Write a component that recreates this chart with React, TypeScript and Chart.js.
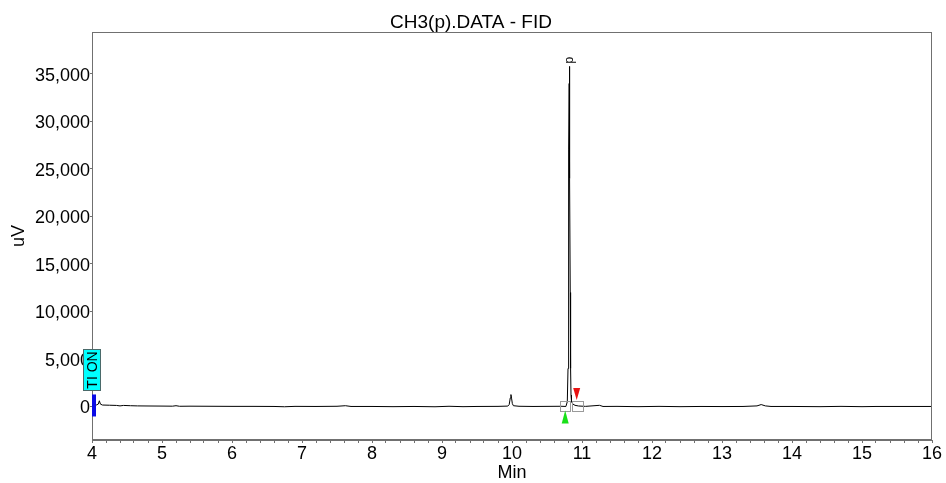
import React, { useEffect, useRef } from 'react';
import { Chart, registerables } from 'chart.js';

Chart.register(...registerables);

const TITLE = 'CH3(p).DATA - FID';
const X_TITLE = 'Min';
const Y_TITLE = 'uV';

// Retention time (min) and FID signal (uV) of the trace
const timeMin = [
  4.02, 4.06, 4.09, 4.105, 4.12, 4.15, 4.25, 4.35, 4.4, 4.45, 4.55, 4.65, 4.8, 5.0,
  5.15, 5.2, 5.25, 5.4, 5.7, 6.0, 6.3, 6.6, 6.75, 6.9, 7.2, 7.5, 7.62, 7.7, 8.0,
  8.3, 8.6, 8.9, 9.1, 9.3, 9.5, 9.8, 9.94, 9.96, 9.975, 9.985, 9.995, 10.005, 10.02,
  10.1, 10.3, 10.5, 10.7, 10.77, 10.79, 10.8, 10.806, 10.812, 10.817, 10.819, 10.822,
  10.827, 10.832, 10.837, 10.843, 10.85, 10.87, 10.9, 10.95, 11.05, 11.25, 11.3, 11.5,
  11.8, 12.1, 12.4, 12.7, 13.0, 13.3, 13.5, 13.56, 13.62, 13.7, 14.0, 14.4, 14.7,
  15.0, 15.2, 15.6, 16.0,
];
const signalUv = [
  100, 150, 250, 600, 250, 150, 130, 110, 60, 110, 80, 60, 50, 40,
  30, 80, 20, 30, 20, 10, 10, 0, -30, 10, 0, 20, 80, 0, 0,
  -20, 0, -30, 20, -20, 0, 10, 40, 200, 900, 1250, 800, 300, 80,
  20, 0, 10, 20, 0, 500, 4000, 14000, 27000, 34000, 35800, 33000,
  24000, 12000, 4000, 1200, 500, 250, 120, 50, 10, 120, 0, 10,
  -20, 10, -20, 0, -10, 0, 60, 200, 60, 0, 0, -20, 10,
  -20, 0, 0, 0,
];

// Axis ticks
const xMajorTicks = [4, 5, 6, 7, 8, 9, 10, 11, 12, 13, 14, 15, 16];
const xMinorStep = 0.2;
const yTicks = [0, 5000, 10000, 15000, 20000, 25000, 30000, 35000];
const xRange = [4, 16];
const yRange = [-3530, 39420];

// Integration marks of peak "p": start, apex, end
const peakName = 'p';
const peakStart = { t: 10.76, v: 0 };
const peakApex = { t: 10.819, v: 35800 };
const peakEnd = { t: 10.924, v: 60 };

// Timed event at the start of the run
const eventTime = 4.0;
const eventLabel = 'TI ON';

const FONT = '"Liberation Sans", Arial, sans-serif';
const AXIS_GREY = '#707070';

const overlayPlugin = {
  id: 'overlay',
  afterDraw(chart: any) {
    const { ctx, chartArea: a } = chart;
    const xs = chart.scales.x;
    const ys = chart.scales.y;
    ctx.save();

    // plot frame
    ctx.strokeStyle = AXIS_GREY;
    ctx.lineWidth = 1;
    ctx.strokeRect(
      Math.round(a.left) + 0.5,
      Math.round(a.top) + 0.5,
      Math.round(a.right - a.left) - 1,
      Math.round(a.bottom - a.top) - 1,
    );

    // title centred on the canvas
    ctx.fillStyle = '#000';
    ctx.font = `19px ${FONT}`;
    ctx.textAlign = 'center';
    ctx.textBaseline = 'alphabetic';
    ctx.fillText(TITLE, chart.width / 2 - 2, 28);

    // baseline start / end boxes
    const sx = xs.getPixelForValue(peakStart.t);
    const sy = ys.getPixelForValue(peakStart.v);
    const ex = xs.getPixelForValue(peakEnd.t);
    const ey = ys.getPixelForValue(peakEnd.v);
    ctx.strokeStyle = '#9a9a9a';
    ctx.lineWidth = 1;
    ctx.strokeRect(Math.round(sx - 5) + 0.5, Math.round(sy - 5) + 0.5, 10, 10);
    ctx.strokeRect(Math.round(ex - 5) + 0.5, Math.round(ey - 5) + 0.5, 11, 10);

    // start triangle (green, pointing up, below the trace)
    ctx.fillStyle = '#19e019';
    ctx.beginPath();
    ctx.moveTo(sx, sy + 4);
    ctx.lineTo(sx + 3.5, sy + 17);
    ctx.lineTo(sx - 3.5, sy + 17);
    ctx.closePath();
    ctx.fill();

    // end triangle (red, pointing down, above the trace)
    ctx.fillStyle = '#e81212';
    ctx.beginPath();
    ctx.moveTo(ex - 3.5, ey - 18);
    ctx.lineTo(ex + 3.5, ey - 18);
    ctx.lineTo(ex, ey - 6);
    ctx.closePath();
    ctx.fill();

    // peak name above the apex, rotated
    const px = xs.getPixelForValue(peakApex.t);
    const py = ys.getPixelForValue(peakApex.v);
    ctx.save();
    ctx.translate(px + 4, py - 3);
    ctx.rotate(-Math.PI / 2);
    ctx.fillStyle = '#000';
    ctx.font = `12px ${FONT}`;
    ctx.textAlign = 'left';
    ctx.textBaseline = 'alphabetic';
    ctx.fillText(peakName, 0, 0);
    ctx.restore();

    // timed event: blue bar on the trace and cyan label box
    const evx = xs.getPixelForValue(eventTime);
    const y0 = ys.getPixelForValue(0);
    ctx.fillStyle = '#0a0ae6';
    ctx.fillRect(evx, y0 - 12, 4, 22);

    const bx = Math.round(evx - 9);
    const by = Math.round(y0 - 57);
    ctx.fillStyle = '#00ffff';
    ctx.fillRect(bx, by, 18, 42);
    ctx.strokeStyle = '#4a6a6a';
    ctx.strokeRect(bx + 0.5, by + 0.5, 17, 41);
    ctx.save();
    ctx.translate(bx + 9, by + 21);
    ctx.rotate(-Math.PI / 2);
    ctx.fillStyle = '#000';
    ctx.font = `14px ${FONT}`;
    ctx.textAlign = 'center';
    ctx.textBaseline = 'middle';
    ctx.fillText(eventLabel, 0, 1);
    ctx.restore();

    ctx.restore();
  },
};

export default function App() {
  const canvasRef = useRef<HTMLCanvasElement | null>(null);

  useEffect(() => {
    const canvas = canvasRef.current;
    if (!canvas) return;

    const points = timeMin.map((t, i) => ({ x: t, y: signalUv[i] }));

    const xTickValues: number[] = [];
    for (let v = xRange[0]; v <= xRange[1] + 1e-9; v += xMinorStep) {
      xTickValues.push(Math.round(v * 10) / 10);
    }

    const chart = new Chart(canvas, {
      type: 'line',
      data: {
        datasets: [
          {
            data: points,
            borderColor: '#000',
            borderWidth: 1,
            pointRadius: 0,
            tension: 0,
            fill: false,
          },
        ],
      },
      options: {
        animation: false,
        responsive: false,
        events: [],
        layout: { padding: { top: 32, right: 14, left: 0, bottom: 0 } },
        plugins: {
          legend: { display: false },
          title: { display: false },
          tooltip: { enabled: false },
        },
        scales: {
          x: {
            type: 'linear',
            min: xRange[0],
            max: xRange[1],
            afterBuildTicks: (s: any) => {
              s.ticks = xTickValues.map((v) => ({ value: v }));
            },
            afterFit: (s: any) => {
              s.height = 43;
            },
            ticks: {
              autoSkip: false,
              maxRotation: 0,
              minRotation: 0,
              padding: 0,
              color: '#000',
              font: { family: FONT, size: 18 },
              callback: (v: any) => {
                const n = Math.round(Number(v) * 10) / 10;
                return xMajorTicks.includes(n) ? String(n) : '';
              },
            },
            grid: {
              display: true,
              drawOnChartArea: false,
              drawTicks: true,
              tickLength: 3,
              color: AXIS_GREY,
            },
            border: { display: true, color: AXIS_GREY },
            title: {
              display: true,
              text: X_TITLE,
              color: '#000',
              font: { family: FONT, size: 18 },
              padding: { top: 0, bottom: -1 },
            },
          },
          y: {
            type: 'linear',
            min: yRange[0],
            max: yRange[1],
            afterBuildTicks: (s: any) => {
              s.ticks = yTicks.map((v) => ({ value: v }));
            },
            afterFit: (s: any) => {
              s.width = 92;
            },
            ticks: {
              padding: 0,
              labelOffset: 2,
              color: '#000',
              font: { family: FONT, size: 18 },
              callback: (v: any) => Number(v).toLocaleString('en-US'),
            },
            grid: {
              display: true,
              drawOnChartArea: false,
              drawTicks: true,
              tickLength: 2,
              color: AXIS_GREY,
            },
            border: { display: true, color: AXIS_GREY },
            title: {
              display: true,
              text: Y_TITLE,
              color: '#000',
              font: { family: FONT, size: 18 },
              padding: { top: 8, bottom: 0 },
            },
          },
        },
      },
      plugins: [overlayPlugin],
    });

    return () => chart.destroy();
  }, []);

  return (
    <div style={{ position: 'fixed', left: 0, top: 0, width: 946, height: 483, background: '#fff' }}>
      <canvas ref={canvasRef} width={946} height={483} style={{ display: 'block' }} />
    </div>
  );
}
